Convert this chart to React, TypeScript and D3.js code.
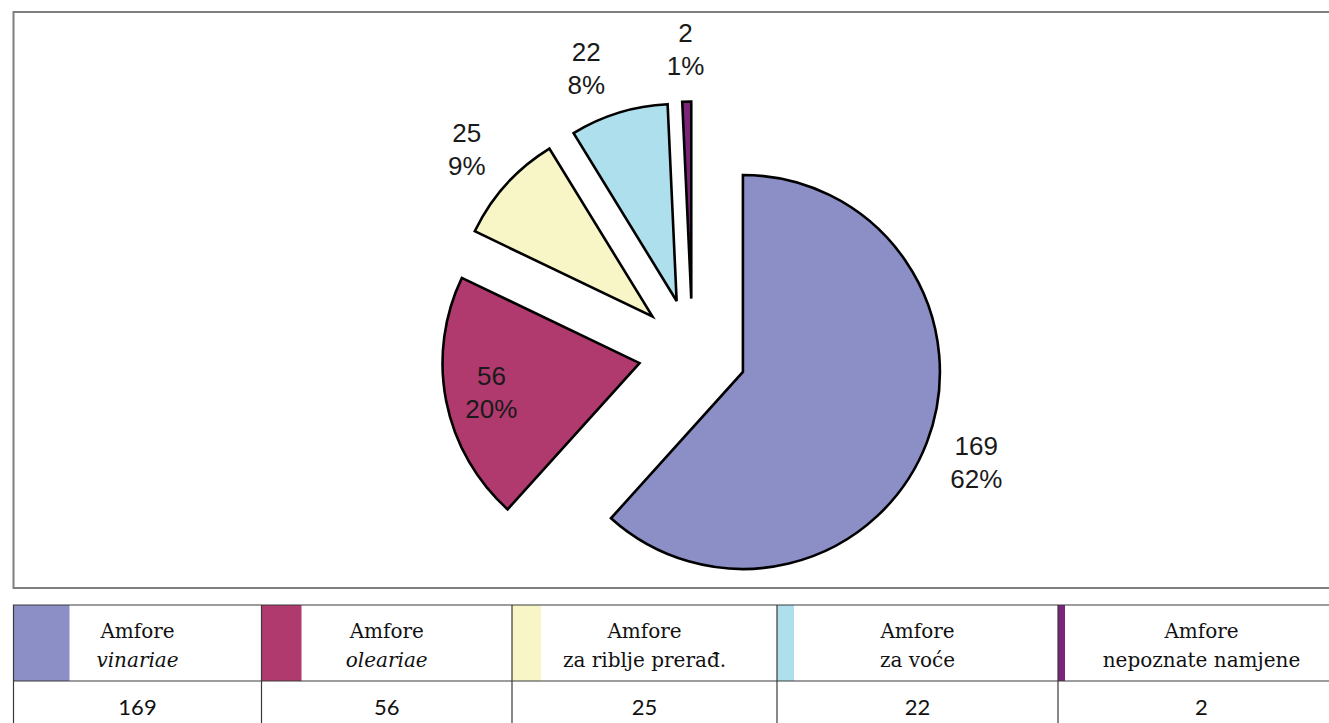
import * as d3 from "d3";
import React, { useRef, useEffect } from "react";

// amphorae by purpose
const headLine = "Amfore";
const types = ["vinariae", "oleariae", "za riblje prerađ.", "za voće", "nepoznate namjene"];
const latinTypes = ["vinariae", "oleariae"];
const counts = [169, 56, 25, 22, 2];
const colors = ["#8c8fc6", "#b0396e", "#f8f6c6", "#aedfec", "#7b2479"];

const W = 1329;
const H = 723;
const margin = { left: 13.5, top: 12, frameBottom: 588, tableTop: 605, rowSplit: 681 };

// pie layout
const cx = 692.5;
const cy = 352.6;
const radius = 197;
const explode = 54;
const labelR = 304;
const insideR = 205;

// table layout
const colEdges = [13.5, 261.5, 512, 777, 1058, 1345];
const swatchW = [56, 40, 29, 17, 7];

export default function App() {
  const ref = useRef<SVGSVGElement>(null);

  useEffect(() => {
    drawChart();
  }, []);

  function drawChart() {
    const svg = d3.select(ref.current);
    svg.selectAll("*").remove();

    const total = d3.sum(counts);

    // chart frame
    svg.append("path")
      .attr("d", `M${W + 10},${margin.top} H${margin.left} V${margin.frameBottom} H${W + 10}`)
      .attr("fill", "none")
      .attr("stroke", "#7f7f7f")
      .attr("stroke-width", 2);

    const pie = d3.pie<number>().sort(null).value((d) => d);
    const arc = d3.arc<d3.PieArcDatum<number>>().innerRadius(0).outerRadius(radius);
    const arcs = pie(counts);

    const g = svg.append("g");

    g.selectAll("path.slice")
      .data(arcs)
      .enter()
      .append("path")
      .attr("class", "slice")
      .attr("transform", (d) => {
        const mid = (d.startAngle + d.endAngle) / 2;
        return `translate(${cx + Math.sin(mid) * explode},${cy - Math.cos(mid) * explode})`;
      })
      .attr("d", arc)
      .attr("fill", (d, i) => colors[i])
      .attr("stroke", "#000")
      .attr("stroke-width", 2.6)
      .attr("stroke-linejoin", "miter");

    // data labels
    const labels = g.selectAll("text.lbl")
      .data(arcs)
      .enter()
      .append("text")
      .attr("class", "lbl")
      .attr("text-anchor", "middle")
      .attr("font-family", "'Liberation Sans', Arial, sans-serif")
      .attr("font-size", 26)
      .attr("fill", "#1a1a1a")
      .attr("transform", (d, i) => {
        let mid = (d.startAngle + d.endAngle) / 2;
        if (i === 3) mid -= 0.059;
        const r = i === 1 ? insideR : labelR;
        return `translate(${cx + Math.sin(mid) * r},${cy - Math.cos(mid) * r})`;
      });

    labels.append("tspan")
      .attr("x", 0)
      .attr("y", -7)
      .text((d) => d.data);
    labels.append("tspan")
      .attr("x", 0)
      .attr("y", 26)
      .text((d) => Math.round((d.data / total) * 100) + "%");

    // legend table
    const t = svg.append("g");
    const lineColor = "#3a3a3a";

    t.selectAll("rect.sw")
      .data(counts)
      .enter()
      .append("rect")
      .attr("class", "sw")
      .attr("x", (d, i) => colEdges[i])
      .attr("y", margin.tableTop)
      .attr("width", (d, i) => swatchW[i])
      .attr("height", margin.rowSplit - margin.tableTop)
      .attr("fill", (d, i) => colors[i]);

    t.append("path")
      .attr("d", `M${W + 10},${margin.tableTop} H${margin.left} V${H + 5} M${margin.left},${margin.rowSplit} H${W + 10}`)
      .attr("fill", "none")
      .attr("stroke", lineColor)
      .attr("stroke-width", 1.2);

    t.selectAll("line.col")
      .data(colEdges.slice(1, -1))
      .enter()
      .append("line")
      .attr("class", "col")
      .attr("x1", (d) => d)
      .attr("x2", (d) => d)
      .attr("y1", margin.tableTop)
      .attr("y2", H + 5)
      .attr("stroke", lineColor)
      .attr("stroke-width", 1.2);

    const colMid = (i: number) => (colEdges[i] + colEdges[i + 1]) / 2;

    const head = t.selectAll("text.head")
      .data(types)
      .enter()
      .append("text")
      .attr("class", "head")
      .attr("text-anchor", "middle")
      .attr("font-family", "'DejaVu Serif', serif")
      .attr("font-size", 20)
      .attr("fill", "#111");

    head.append("tspan")
      .attr("x", (d, i) => colMid(i))
      .attr("y", 638)
      .text(headLine);
    head.append("tspan")
      .attr("x", (d, i) => colMid(i))
      .attr("y", 667)
      .attr("font-style", (d) => (latinTypes.includes(d) ? "italic" : "normal"))
      .text((d) => d);

    t.selectAll("text.val")
      .data(counts)
      .enter()
      .append("text")
      .attr("class", "val")
      .attr("text-anchor", "middle")
      .attr("x", (d, i) => colMid(i))
      .attr("y", 714.5)
      .attr("font-family", "Lato, 'Open Sans', sans-serif")
      .attr("font-size", 22)
      .attr("fill", "#111")
      .text((d) => d);
  }

  return (
    <svg
      ref={ref}
      width={W}
      height={H}
      style={{ position: "absolute", left: 0, top: 0, background: "#fff" }}
    />
  );
}
